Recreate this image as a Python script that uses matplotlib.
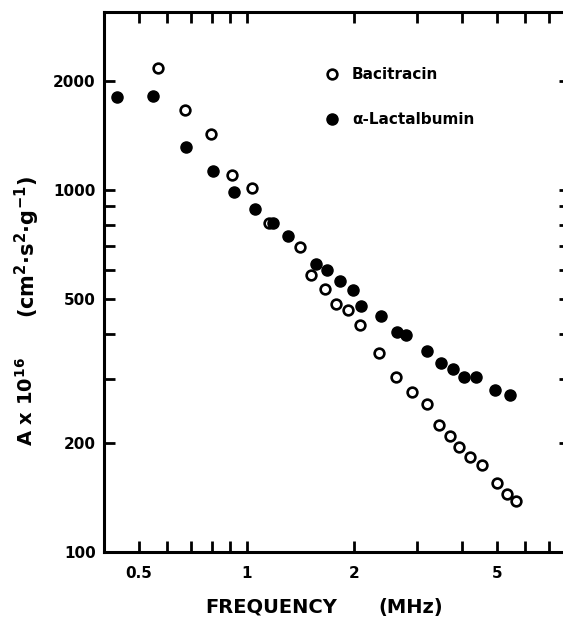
import numpy as np
import matplotlib
matplotlib.use('Agg')
import matplotlib.pyplot as plt
from matplotlib.ticker import FixedLocator, NullFormatter

# Bacitracin (open circles)
baci_freq = [0.566, 0.673, 0.794, 0.910, 1.033, 1.154, 1.41, 1.515, 1.66, 1.78,
             1.92, 2.08, 2.35, 2.62, 2.89, 3.19, 3.44, 3.70, 3.93, 4.20,
             4.53, 5.01, 5.35, 5.65]
baci_A = [2177, 1660, 1425, 1100, 1011, 809, 694, 581, 533, 484,
          465, 423, 354, 305, 277, 256, 224, 209, 195, 183,
          174, 155, 145, 138]

# alpha-Lactalbumin (filled circles)
lact_freq = [0.434, 0.547, 0.676, 0.806, 0.922, 1.053, 1.187, 1.306, 1.56, 1.68,
             1.827, 1.98, 2.087, 2.37, 2.634, 2.786, 3.19, 3.49, 3.78, 4.04,
             4.36, 4.93, 5.43]
lact_A = [1803, 1815, 1312, 1131, 989, 885, 809, 748, 625, 602,
          562, 529, 477, 448, 405, 398, 358, 332, 320, 305,
          304, 281, 272]

x_major = [0.5, 1, 2, 5]
x_major_labels = ['0.5', '1', '2', '5']
x_minor = [0.6, 0.7, 0.8, 0.9, 3, 4, 6, 7]
y_major = [100, 200, 500, 1000, 2000]
y_minor = [300, 400, 600, 700, 800, 900]

plt.rcParams['font.family'] = 'DejaVu Sans'
plt.rcParams['font.weight'] = 'bold'

fig = plt.figure(figsize=(5.63, 6.18), dpi=100)
ax = fig.add_axes([104/563, 1-552/618, 466/563, 540/618])

ax.plot(baci_freq, baci_A, 'o', ms=7, mfc='white', mec='black', mew=1.9, ls='none')
ax.plot(lact_freq, lact_A, 'o', ms=8, mfc='black', mec='black', ls='none')

ax.set_xscale('log')
ax.set_yscale('log')
ax.set_xlim(0.4, 8)
ax.set_ylim(100, 3100)

ax.xaxis.set_major_locator(FixedLocator(x_major))
ax.xaxis.set_minor_locator(FixedLocator(x_minor))
ax.set_xticklabels(x_major_labels)
ax.xaxis.set_minor_formatter(NullFormatter())
ax.yaxis.set_major_locator(FixedLocator(y_major))
ax.yaxis.set_minor_locator(FixedLocator(y_minor))
ax.set_yticklabels([str(v) for v in y_major])
ax.yaxis.set_minor_formatter(NullFormatter())

ax.tick_params(which='both', direction='in', top=True, right=True,
               length=8, width=2, labelsize=11)
ax.tick_params(axis='x', pad=10)
ax.tick_params(axis='y', pad=6)
for s in ax.spines.values():
    s.set_linewidth(2.2)

# legend drawn by hand, in axes fraction
leg_mx = (332 - 104) / 466
leg_tx = (352 - 104) / 466
leg_y1 = (552 - 74) / 540
leg_y2 = (552 - 119) / 540
ax.plot([leg_mx], [leg_y1], 'o', ms=7, mfc='white', mec='black', mew=1.9,
        transform=ax.transAxes)
ax.plot([leg_mx], [leg_y2], 'o', ms=8, mfc='black', mec='black',
        transform=ax.transAxes)
ax.text(leg_tx, leg_y1, 'Bacitracin', fontsize=11, fontweight='bold',
        va='center', ha='left', transform=ax.transAxes)
ax.text(leg_tx, leg_y2, '\u03b1-Lactalbumin', fontsize=11, fontweight='bold',
        va='center', ha='left', transform=ax.transAxes)

# axis titles
fig.text(271/563, 1 - 607/618, 'FREQUENCY', ha='center', va='center',
         fontsize=14, fontweight='bold')
fig.text(411/563, 1 - 607/618, '(MHz)', ha='center', va='center',
         fontsize=14, fontweight='bold')
fig.text(26/563, 1 - 402/618, r'A x 10$^{\mathbf{16}}$',
         rotation=90, ha='center', va='center', fontsize=14, fontweight='bold')
fig.text(27/563, 1 - 247/618,
         r'(cm$^{\mathbf{2}}$$\cdot$s$^{\mathbf{2}}$$\cdot$g$^{\mathbf{-1}}$)',
         rotation=90, ha='center', va='center', fontsize=15, fontweight='bold')

fig.savefig('out.png', dpi=100)
